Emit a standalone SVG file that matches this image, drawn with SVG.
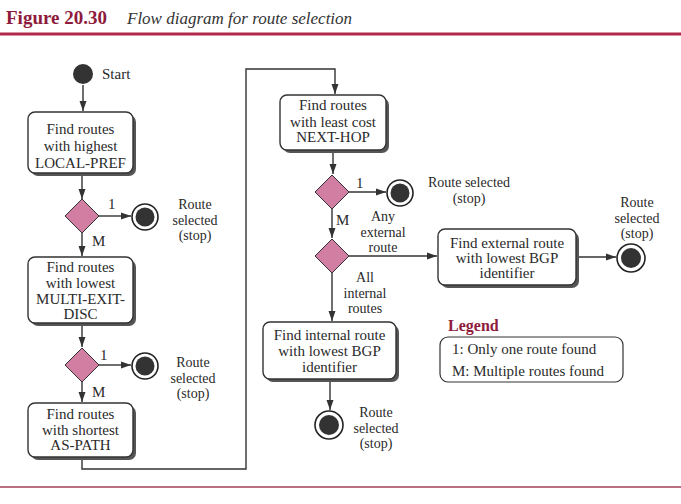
<svg xmlns="http://www.w3.org/2000/svg" width="681" height="504" viewBox="0 0 681 504">
<defs>
<marker id="arr" markerUnits="userSpaceOnUse" markerWidth="10" markerHeight="8" refX="10" refY="4" orient="auto">
<path d="M0,0.5 L10,4 L0,7.5 z" fill="#333"/>
</marker>
</defs>
<style>
.t{font-family:"Liberation Serif","Times New Roman",serif;font-size:15px;fill:#2a2a2a;text-anchor:middle}
.s{font-family:"Liberation Serif","Times New Roman",serif;font-size:14px;fill:#2a2a2a;text-anchor:middle}
.l{font-family:"Liberation Serif","Times New Roman",serif;font-size:15px;fill:#2a2a2a}
.box{fill:#fff;stroke:#333;stroke-width:1.4}
.sh{fill:#555}
.dia{fill:#d17ea2;stroke:#333;stroke-width:1}
.ring{fill:#fff;stroke:#222;stroke-width:1.6}
.dot{fill:#333}
.c{fill:none;stroke:#333;stroke-width:1.4}
</style>
<rect width="681" height="504" fill="#fff"/>
<g id="header">
<text x="6" y="24" style="font-family:'Liberation Serif',serif;font-size:19px;font-weight:bold;fill:#8e1b3c">Figure 20.30</text>
<text x="127" y="24" style="font-family:'Liberation Serif',serif;font-size:17px;font-style:italic;fill:#333">Flow diagram for route selection</text>
<line x1="0" y1="34" x2="681" y2="34" stroke="#b0284a" stroke-width="3"/>
<line x1="0" y1="487" x2="681" y2="487" stroke="#a04058" stroke-width="1.5"/>
</g>
<g id="connectors">
<path class="c" d="M83,85 V111" marker-end="url(#arr)"/>
<path class="c" d="M82,175 V199" marker-end="url(#arr)"/>
<path class="c" d="M99,216 H131" marker-end="url(#arr)"/>
<path class="c" d="M82,233 V256" marker-end="url(#arr)"/>
<path class="c" d="M82,325 V347" marker-end="url(#arr)"/>
<path class="c" d="M99,365 H131" marker-end="url(#arr)"/>
<path class="c" d="M82,382 V402" marker-end="url(#arr)"/>
<path class="c" d="M82,459 V469 H246 V69 H335 V94" marker-end="url(#arr)"/>
<path class="c" d="M333,152 V174" marker-end="url(#arr)"/>
<path class="c" d="M349,192 H386" marker-end="url(#arr)"/>
<path class="c" d="M332,209 V238" marker-end="url(#arr)"/>
<path class="c" d="M349,256 H437" marker-end="url(#arr)"/>
<path class="c" d="M578,257 H616" marker-end="url(#arr)"/>
<path class="c" d="M332,273 V321" marker-end="url(#arr)"/>
<path class="c" d="M330,381 V410" marker-end="url(#arr)"/>
<text class="l" x="108" y="209">1</text>
<text class="l" x="92" y="246">M</text>
<text class="l" x="100" y="360">1</text>
<text class="l" x="92" y="397">M</text>
<text class="l" x="356" y="188">1</text>
<text class="l" x="336" y="225">M</text>
<text class="s" x="383" y="221">Any</text>
<text class="s" x="383" y="236.5">external</text>
<text class="s" x="383" y="252">route</text>
<text class="s" x="365" y="282">All</text>
<text class="s" x="365" y="297.5">internal</text>
<text class="s" x="365" y="313">routes</text>
</g>
<g id="start">
<circle class="dot" cx="83" cy="74" r="10"/>
<text class="l" x="102" y="79">Start</text>
</g>
<g id="box1">
<rect class="sh" x="31" y="115" width="105" height="61" rx="7"/>
<rect class="box" x="28" y="112" width="105" height="61" rx="7"/>
<text class="t" x="80.5" y="134">Find routes</text>
<text class="t" x="80.5" y="151">with highest</text>
<text class="t" x="80.5" y="168">LOCAL-PREF</text>
</g>
<g id="d1"><path class="dia" d="M82,199 L99,216 L82,233 L65,216 z"/></g>
<g id="stop1">
<circle class="ring" cx="145" cy="217" r="13"/><circle class="dot" cx="145" cy="217" r="9.5"/>
<text class="s" x="195" y="209">Route</text>
<text class="s" x="195" y="224.5">selected</text>
<text class="s" x="195" y="240">(stop)</text>
</g>
<g id="box2">
<rect class="sh" x="31" y="260" width="105" height="66" rx="7"/>
<rect class="box" x="28" y="257" width="105" height="66" rx="7"/>
<text class="t" x="80.5" y="272">Find routes</text>
<text class="t" x="80.5" y="288">with lowest</text>
<text class="t" x="80.5" y="304">MULTI-EXIT-</text>
<text class="t" x="80.5" y="319">DISC</text>
</g>
<g id="d2"><path class="dia" d="M82,348 L99,365 L82,382 L65,365 z"/></g>
<g id="stop2">
<circle class="ring" cx="145" cy="366" r="13"/><circle class="dot" cx="145" cy="366" r="9.5"/>
<text class="s" x="193" y="367">Route</text>
<text class="s" x="193" y="382.5">selected</text>
<text class="s" x="193" y="398">(stop)</text>
</g>
<g id="box3">
<rect class="sh" x="31" y="406" width="105" height="54" rx="7"/>
<rect class="box" x="28" y="403" width="105" height="54" rx="7"/>
<text class="t" x="80.5" y="419">Find routes</text>
<text class="t" x="80.5" y="435">with shortest</text>
<text class="t" x="80.5" y="450">AS-PATH</text>
</g>
<g id="box4">
<rect class="sh" x="283" y="98" width="106" height="55" rx="7"/>
<rect class="box" x="280" y="95" width="106" height="55" rx="7"/>
<text class="t" x="333" y="110">Find routes</text>
<text class="t" x="333" y="127">with least cost</text>
<text class="t" x="333" y="142">NEXT-HOP</text>
</g>
<g id="d3"><path class="dia" d="M332,175 L349,192 L332,209 L315,192 z"/></g>
<g id="stop3">
<circle class="ring" cx="400" cy="193" r="13"/><circle class="dot" cx="400" cy="193" r="9.5"/>
<text class="s" x="469" y="187">Route selected</text>
<text class="s" x="469" y="203">(stop)</text>
</g>
<g id="d4"><path class="dia" d="M332,239 L349,256 L332,273 L315,256 z"/></g>
<g id="box5">
<rect class="sh" x="441" y="232" width="138" height="56" rx="7"/>
<rect class="box" x="438" y="229" width="138" height="56" rx="7"/>
<text class="t" x="507" y="248">Find external route</text>
<text class="t" x="507" y="263">with lowest BGP</text>
<text class="t" x="507" y="278">identifier</text>
</g>
<g id="stop4">
<circle class="ring" cx="631" cy="258" r="14"/><circle class="dot" cx="631" cy="258" r="10"/>
<text class="s" x="637" y="207">Route</text>
<text class="s" x="637" y="222.5">selected</text>
<text class="s" x="637" y="238">(stop)</text>
</g>
<g id="box6">
<rect class="sh" x="266" y="325" width="133" height="57" rx="7"/>
<rect class="box" x="263" y="322" width="133" height="57" rx="7"/>
<text class="t" x="329.5" y="340">Find internal route</text>
<text class="t" x="329.5" y="356">with lowest BGP</text>
<text class="t" x="329.5" y="372">identifier</text>
</g>
<g id="stop5">
<circle class="ring" cx="329" cy="425" r="14"/><circle class="dot" cx="329" cy="425" r="10"/>
<text class="s" x="376" y="417">Route</text>
<text class="s" x="376" y="432.5">selected</text>
<text class="s" x="376" y="448">(stop)</text>
</g>
<g id="legend">
<text x="448" y="331" style="font-family:'Liberation Serif',serif;font-size:16px;font-weight:bold;fill:#8e1b3c">Legend</text>
<rect x="440" y="337" width="183" height="45" rx="8" fill="#fff" stroke="#333" stroke-width="1.2"/>
<text class="l" x="452" y="354">1: Only one route found</text>
<text class="l" x="452" y="376">M: Multiple routes found</text>
</g>
</svg>
